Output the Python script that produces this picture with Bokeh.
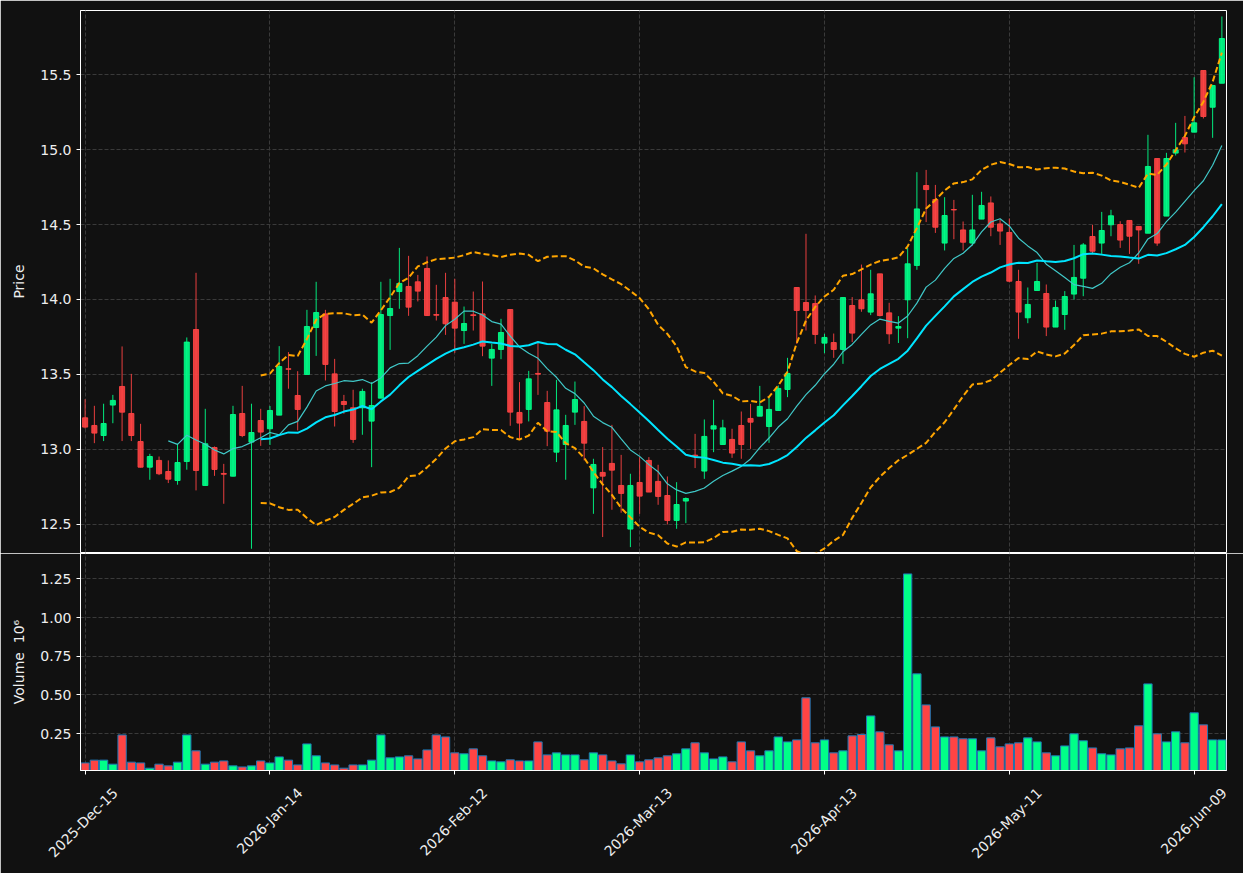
import numpy as np
import pandas as pd
from math import pi
from bokeh.plotting import figure
from bokeh.layouts import column
from bokeh.models import (ColumnDataSource, FixedTicker, Range1d, NumeralTickFormatter,
                          LinearAxis)
from bokeh.embed import file_html
from bokeh.resources import INLINE

# ---------------- data ----------------
opens = [13.211, 13.16, 13.093, 13.296, 13.42, 13.24, 13.053, 12.882, 12.927, 12.853,
         12.793, 12.92, 13.80, 12.76, 13.013, 12.84, 12.822, 13.24, 13.049, 13.193,
         13.138, 13.229, 13.538, 13.36, 13.50, 13.813, 13.904, 13.504, 13.32, 13.278,
         13.278, 13.189, 13.342, 13.893, 14.053, 14.087, 14.118, 14.207, 13.90, 14.013,
         13.982, 13.793, 13.898, 13.904, 13.609, 13.667, 13.933, 13.247, 13.267, 13.507,
         13.313, 12.982, 13.033, 13.249, 13.187, 12.744, 12.847, 12.907, 12.76, 12.469,
         12.78, 12.927, 12.787, 12.693, 12.527, 12.656, 12.962, 12.856, 13.136, 13.033,
         13.067, 13.16, 13.207, 13.222, 13.153, 13.26, 13.40, 14.08, 13.98, 13.973,
         13.709, 13.713, 13.667, 13.96, 13.998, 13.916, 14.171, 13.911, 13.809, 13.998,
         14.227, 14.76, 14.667, 14.376, 14.60, 14.464, 14.376, 14.536, 14.644, 14.504,
         14.447, 14.12, 13.878, 14.06, 14.04, 13.816, 13.90, 14.036, 14.142, 14.42,
         14.376, 14.498, 14.50, 14.527, 14.487, 14.442, 14.94, 14.556, 14.976, 15.08,
         15.116, 15.527, 15.282, 15.442]
highs = [13.335, 13.291, 13.305, 13.364, 13.687, 13.504, 13.171, 12.971, 12.953, 12.927,
         13.038, 13.747, 14.178, 13.271, 13.02, 12.904, 13.291, 13.424, 13.305, 13.271,
         13.29, 13.689, 13.649, 13.522, 13.931, 14.118, 13.931, 13.604, 13.364, 13.398,
         13.405, 13.449, 14.118, 14.138, 14.344, 14.291, 14.164, 14.287, 14.098, 14.178,
         14.138, 13.953, 14.053, 14.12, 13.704, 13.871, 13.933, 13.449, 13.524, 13.72,
         13.391, 13.464, 13.231, 13.453, 13.289, 12.938, 13.016, 13.164, 12.964, 12.838,
         12.949, 12.949, 12.898, 12.82, 12.782, 12.68, 13.104, 13.20, 13.331, 13.198,
         13.138, 13.253, 13.304, 13.424, 13.356, 13.427, 13.611, 14.08, 14.438, 14.027,
         13.771, 13.773, 14.016, 14.016, 14.233, 14.198, 14.171, 13.978, 13.889, 14.344,
         14.849, 14.864, 14.764, 14.682, 14.664, 14.52, 14.698, 14.718, 14.687, 14.533,
         14.54, 14.198, 14.08, 14.244, 14.10, 13.993, 14.056, 14.364, 14.376, 14.498,
         14.584, 14.598, 14.522, 14.527, 14.487, 15.098, 14.94, 14.978, 15.178, 15.224,
         15.482, 15.527, 15.427, 15.887]
lows = [13.14, 13.042, 13.056, 13.175, 13.056, 13.056, 12.88, 12.798, 12.829, 12.776,
        12.765, 12.865, 12.727, 12.76, 12.824, 12.638, 12.82, 13.082, 12.338, 13.024,
        13.03, 13.229, 13.405, 13.127, 13.5, 13.624, 13.46, 13.153, 13.238, 13.044,
        13.098, 12.882, 13.342, 13.664, 13.938, 13.891, 13.987, 13.89, 13.86, 13.764,
        13.644, 13.704, 13.793, 13.622, 13.424, 13.602, 13.158, 13.071, 13.187, 13.364,
        13.022, 12.916, 12.798, 13.164, 12.927, 12.571, 12.416, 12.598, 12.578, 12.349,
        12.571, 12.716, 12.631, 12.50, 12.471, 12.509, 12.876, 12.804, 12.982, 13.033,
        12.944, 12.938, 13.004, 13.222, 13.044, 13.26, 13.349, 13.704, 13.793, 13.704,
        13.642, 13.611, 13.571, 13.716, 13.918, 13.896, 13.887, 13.704, 13.71, 13.742,
        14.198, 14.516, 14.444, 14.327, 14.402, 14.327, 14.36, 14.536, 14.422, 14.364,
        14.115, 13.738, 13.842, 14.06, 13.756, 13.816, 13.798, 14.00, 14.022, 14.31,
        14.304, 14.422, 14.344, 14.304, 14.238, 14.442, 14.358, 14.556, 14.96, 14.98,
        15.116, 15.207, 15.078, 15.442]
closes = [13.149, 13.109, 13.173, 13.327, 13.249, 13.093, 12.882, 12.953, 12.838, 12.802,
          12.913, 13.716, 12.86, 13.038, 12.867, 12.835, 13.233, 13.093, 13.113, 13.116,
          13.26, 13.553, 13.535, 13.267, 13.82, 13.913, 13.567, 13.253, 13.30, 13.067,
          13.387, 13.293, 13.90, 13.94, 14.107, 13.949, 14.056, 13.893, 13.895, 13.838,
          13.809, 13.84, 13.893, 13.689, 13.667, 13.78, 13.249, 13.176, 13.471, 13.502,
          13.122, 13.264, 13.16, 13.333, 13.042, 12.90, 12.822, 12.862, 12.707, 12.76,
          12.689, 12.716, 12.687, 12.527, 12.633, 12.673, 12.955, 13.087, 13.158, 13.144,
          12.976, 13.033, 13.182, 13.287, 13.267, 13.407, 13.507, 13.927, 13.927, 13.767,
          13.747, 13.667, 14.013, 13.776, 13.938, 14.038, 13.893, 13.771, 13.82, 14.238,
          14.604, 14.733, 14.482, 14.56, 14.597, 14.382, 14.464, 14.627, 14.482, 14.456,
          14.122, 13.916, 13.967, 14.12, 13.816, 13.947, 14.02, 14.147, 14.364, 14.322,
          14.46, 14.558, 14.396, 14.422, 14.464, 14.887, 14.376, 14.94, 14.998, 15.038,
          15.178, 15.22, 15.427, 15.74]
volumes_m = [0.060, 0.078, 0.078, 0.052, 0.241, 0.065, 0.060, 0.026, 0.052, 0.041,
             0.065, 0.241, 0.138, 0.052, 0.065, 0.073, 0.041, 0.034, 0.041, 0.073,
             0.060, 0.099, 0.078, 0.047, 0.183, 0.106, 0.060, 0.047, 0.026, 0.047,
             0.047, 0.078, 0.241, 0.093, 0.099, 0.106, 0.086, 0.144, 0.241, 0.228,
             0.125, 0.119, 0.151, 0.106, 0.073, 0.067, 0.080, 0.073, 0.073, 0.196,
             0.112, 0.125, 0.112, 0.112, 0.080, 0.125, 0.112, 0.073, 0.054, 0.112,
             0.067, 0.080, 0.093, 0.106, 0.119, 0.151, 0.190, 0.125, 0.086, 0.099,
             0.067, 0.196, 0.138, 0.106, 0.138, 0.228, 0.196, 0.209, 0.481, 0.190,
             0.209, 0.125, 0.138, 0.235, 0.244, 0.364, 0.261, 0.177, 0.138, 1.282,
             0.636, 0.435, 0.293, 0.228, 0.228, 0.216, 0.216, 0.138, 0.222, 0.164,
             0.183, 0.190, 0.222, 0.196, 0.125, 0.106, 0.170, 0.248, 0.203, 0.157,
             0.119, 0.112, 0.151, 0.157, 0.300, 0.571, 0.248, 0.196, 0.261, 0.190,
             0.384, 0.306, 0.209, 0.209]
tick_idx = [0, 20, 40, 60, 80, 100, 120]
tick_labels = ["2025-Dec-15", "2026-Jan-14", "2026-Feb-12", "2026-Mar-13",
               "2026-Apr-13", "2026-May-11", "2026-Jun-09"]
price_ticks = [12.5, 13.0, 13.5, 14.0, 14.5, 15.0, 15.5]
volume_ticks = [0.25, 0.50, 0.75, 1.00, 1.25]

# ---------------- derived ----------------
BG = "#111111"
UP = "#00ff88"
DOWN = "#ff4444"
GRID = "#3a3a3a"
TXT = "#eeeeee"
FONT = "DejaVu Sans"

n = len(closes)
xs = list(range(n))
colors = [UP if c >= o else DOWN for o, c in zip(opens, closes)]
cs = pd.Series(closes)
ma10 = cs.rolling(10).mean()
ma20 = cs.rolling(20).mean()
sd20 = cs.rolling(20).std(ddof=0)
upper = ma20 + 2 * sd20
lower = ma20 - 2 * sd20

src = ColumnDataSource(dict(
    x=xs, open=opens, high=highs, low=lows, close=closes,
    top=[max(o, c) for o, c in zip(opens, closes)],
    bottom=[min(o, c) for o, c in zip(opens, closes)],
    color=colors, vol=volumes_m,
    ma10=ma10.values, ma20=ma20.values, upper=upper.values, lower=lower.values,
))

xr = Range1d(-0.5, n - 0.5)


def style_axis(ax):
    ax.axis_line_color = "white"
    ax.major_tick_line_color = "white"
    ax.major_tick_out = 4
    ax.major_tick_in = 0
    ax.minor_tick_line_color = None
    ax.major_label_text_color = TXT
    ax.major_label_text_font = FONT
    ax.major_label_text_font_size = "14px"
    ax.axis_label_text_color = TXT
    ax.axis_label_text_font = FONT
    ax.axis_label_text_font_size = "14px"
    ax.axis_label_text_font_style = "normal"
    ax.major_label_standoff = 5
    ax.axis_label_standoff = 10


def style(p):
    p.background_fill_color = BG
    p.border_fill_color = BG
    p.outline_line_color = "white"
    p.outline_line_width = 1
    for g in (p.xgrid, p.ygrid):
        g.grid_line_color = GRID
        g.grid_line_dash = "4 2"
        g.grid_line_width = 1
    for ax in (p.xaxis, p.yaxis):
        style_axis(ax)


# ---------------- price panel ----------------
p1 = figure(width=1243, height=553, x_range=xr, y_range=Range1d(12.313, 15.927),
            output_backend="svg", toolbar_location=None,
            min_border_left=80, min_border_right=17, min_border_top=10, min_border_bottom=1)
style(p1)
p1.xaxis.visible = False
p1.xgrid.ticker = FixedTicker(ticks=tick_idx)
p1.yaxis.ticker = FixedTicker(ticks=price_ticks)
p1.ygrid.ticker = FixedTicker(ticks=price_ticks)
p1.yaxis.formatter = NumeralTickFormatter(format="0.0")
p1.yaxis.axis_label = "Price"

p1.segment(x0="x", y0="low", x1="x", y1="high", source=src, line_color="color",
           line_alpha=0.9, line_width=1)
p1.vbar(x="x", width=0.55, top="top", bottom="bottom", source=src,
        fill_color="color", line_color="color", fill_alpha=0.9, line_alpha=0.9)
p1.line("x", "ma10", source=src, line_color="#40c8c8", line_width=1.2)
p1.line("x", "ma20", source=src, line_color="#00e5ff", line_width=2)
p1.line("x", "upper", source=src, line_color="#ffa500", line_width=2, line_dash="6 3")
p1.line("x", "lower", source=src, line_color="#ffa500", line_width=2, line_dash="6 3")

# ---------------- volume panel ----------------
p2 = figure(width=1243, height=320, x_range=xr, y_range=Range1d(0.011, 1.414),
            output_backend="svg", toolbar_location=None,
            min_border_left=80, min_border_right=17, min_border_top=0, min_border_bottom=103)
style(p2)
p2.xaxis.ticker = FixedTicker(ticks=tick_idx)
p2.xgrid.ticker = FixedTicker(ticks=tick_idx)
p2.xaxis.major_label_text_color = None   # tick marks only on this axis

# date labels: a label-only axis whose range is offset by a few bars so that the
# rotated (end-anchored) labels sit centred under the ticks, as in the reference
LABEL_SHIFT = 3.25
p2.extra_x_ranges = {"labels": Range1d(-0.5 - LABEL_SHIFT, n - 0.5 - LABEL_SHIFT)}
lab_axis = LinearAxis(x_range_name="labels", ticker=FixedTicker(ticks=tick_idx))
style_axis(lab_axis)
lab_axis.axis_line_color = None
lab_axis.major_tick_line_color = None
lab_axis.major_tick_out = 0
lab_axis.major_label_standoff = 16
lab_axis.major_label_overrides = {i: s for i, s in zip(tick_idx, tick_labels)}
lab_axis.major_label_orientation = pi / 4
p2.add_layout(lab_axis, "below")

p2.yaxis.ticker = FixedTicker(ticks=volume_ticks)
p2.ygrid.ticker = FixedTicker(ticks=volume_ticks)
p2.yaxis.formatter = NumeralTickFormatter(format="0.00")
p2.yaxis.axis_label = "Volume\u00a0\u00a010\u2076"

p2.vbar(x="x", width=0.9, top="vol", bottom=0, source=src,
        fill_color="color", line_color="#1f77b4", line_width=1)

layout = column(p1, p2, spacing=0)
open("out.html", "w").write(file_html(layout, INLINE))
